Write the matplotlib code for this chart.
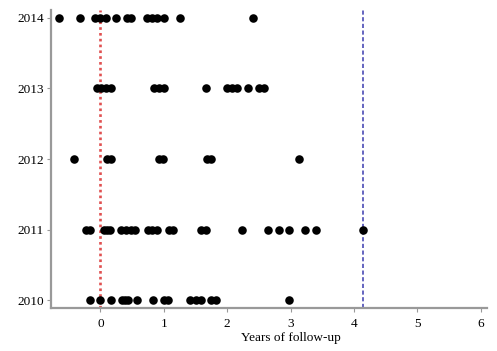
import matplotlib
matplotlib.use("Agg")
import matplotlib.pyplot as plt

# follow-up times (years) per year of inclusion
years = [2010, 2011, 2012, 2013, 2014]
fu_2010 = [-0.16, 0.0, 0.16, 0.34, 0.38, 0.43, 0.58, 0.83, 1.01, 1.07,
           1.42, 1.50, 1.58, 1.75, 1.82, 2.97]
fu_2011 = [-0.23, -0.17, 0.05, 0.10, 0.15, 0.33, 0.41, 0.48, 0.55,
           0.75, 0.82, 0.90, 1.08, 1.15, 1.58, 1.66, 2.23, 2.65, 2.82,
           2.98, 3.23, 3.40, 4.14]
fu_2012 = [-0.41, 0.10, 0.16, 0.92, 0.98, 1.68, 1.74, 3.14]
fu_2013 = [-0.06, 0.01, 0.08, 0.16, 0.84, 0.92, 1.0, 1.66, 2.0, 2.08,
           2.16, 2.33, 2.50, 2.58]
fu_2014 = [-0.66, -0.33, -0.09, 0.0, 0.09, 0.25, 0.42, 0.48, 0.73, 0.82,
           0.90, 1.0, 1.25, 2.41]
series = [fu_2010, fu_2011, fu_2012, fu_2013, fu_2014]
xticks = [0, 1, 2, 3, 4, 5, 6]
start_line = 0.0
end_line = 4.14

plt.rcParams['font.family'] = ['Liberation Serif', 'DejaVu Serif']

fig = plt.figure(figsize=(4.97, 3.51), dpi=100)
ax = fig.add_axes([0.1026, 0.1225, 0.8774, 0.849])

for yr, vals in zip(years, series):
    ax.scatter(vals, [yr] * len(vals), s=38, color='black', zorder=3,
               linewidths=0)

ax.axvline(start_line, color='#e05050', linestyle=(0, (1.0, 1.2)), lw=1.9, zorder=2)
ax.axvline(end_line, color='#4a4ab5', linestyle=(0, (2.5, 1.5)), lw=1.2, zorder=2)

ax.set_xlim(-0.78, 6.1)
ax.set_ylim(2009.89, 2014.11)
ax.set_xticks(xticks)
ax.set_yticks(years)
ax.set_yticklabels([str(y) for y in years])

for s in ['top', 'right']:
    ax.spines[s].set_visible(False)
for s in ['left', 'bottom']:
    ax.spines[s].set_color('#999999')
    ax.spines[s].set_linewidth(1.6)

ax.tick_params(axis='both', colors='#999999', labelcolor='black',
               labelsize=9.5, length=3, width=0.8)
ax.tick_params(axis='x', pad=4)
ax.tick_params(axis='y', pad=2)

ax.set_xlabel('Years of follow-up', fontsize=9.5)
ax.xaxis.set_label_coords(0.55, -0.08)

fig.savefig('out.png', dpi=100)
